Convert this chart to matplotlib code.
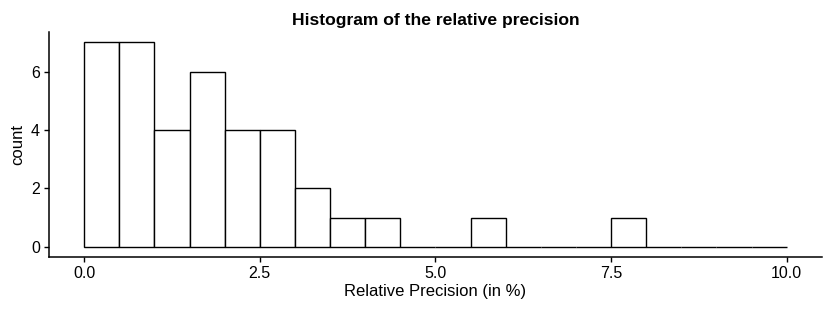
from matplotlib import pyplot as plt
import numpy as np

plt.rcParams['font.family'] = ['Liberation Sans', 'DejaVu Sans']

# Histogram bins (width 0.5) and counts
bin_edges = np.arange(0, 10.5, 0.5)
counts = [7, 7, 4, 6, 4, 4, 2, 1, 1, 0, 0, 1, 0, 0, 0, 1, 0, 0, 0, 0]
x_ticks = [0.0, 2.5, 5.0, 7.5, 10.0]
y_ticks = [0, 2, 4, 6]

fig = plt.figure(figsize=(8.31, 3.12), dpi=100)
ax = fig.add_axes([0.059, 0.176, 0.930, 0.721])

ax.bar(bin_edges[:-1], counts, width=0.5, align='edge',
       facecolor='white', edgecolor='black', linewidth=1.0)

ax.set_xlim(-0.5, 10.5)
ax.set_ylim(-0.35, 7.35)
ax.set_xticks(x_ticks)
ax.set_xticklabels(['%.1f' % t for t in x_ticks])
ax.set_yticks(y_ticks)

for side in ['top', 'right']:
    ax.spines[side].set_visible(False)
for side in ['left', 'bottom']:
    ax.spines[side].set_linewidth(1.1)
    ax.spines[side].set_color('black')

ax.tick_params(axis='both', length=3.5, width=1.0, labelsize=11.5,
               colors='black', pad=3)

ax.set_xlabel('Relative Precision (in %)', fontsize=12, labelpad=2)
ax.set_ylabel('count', fontsize=12, labelpad=4)
ax.set_title('Histogram of the relative precision', fontsize=12.6,
             fontweight='bold', pad=5)

fig.savefig('out.png', dpi=100)
